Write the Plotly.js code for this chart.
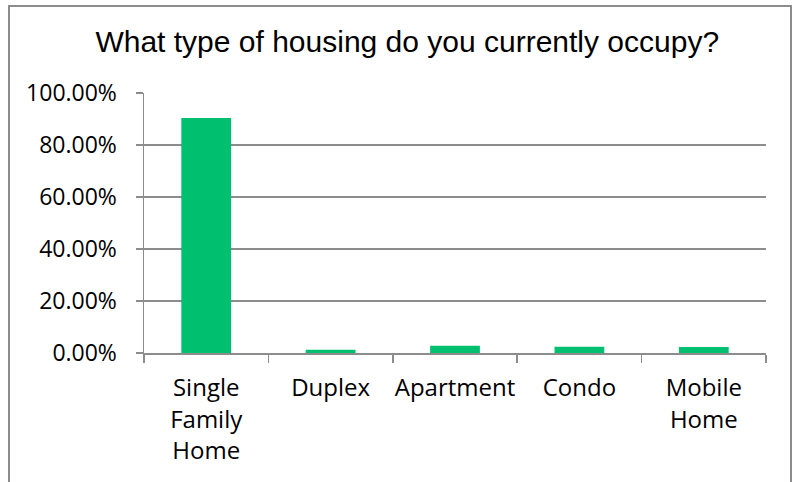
<!DOCTYPE html>
<html>
<head>
<meta charset="utf-8">
<script src="https://cdn.plot.ly/plotly-3.0.1.min.js"></script>
<style>
  html, body { margin: 0; padding: 0; background: #ffffff; overflow: hidden; }
  #wrap { position: relative; width: 797px; height: 482px; }
  #chart { position: absolute; left: 0; top: 0; width: 797px; height: 482px; }
  #frame { position: absolute; left: 8px; top: 5px; width: 784px; height: 490px;
           border-left: 2px solid #8c8c8c; border-top: 2px solid #8c8c8c; border-right: 2px solid #8c8c8c;
           pointer-events: none; box-sizing: border-box; }
</style>
</head>
<body>
<div id="wrap">
  <div id="chart"></div>
  <div id="frame"></div>
</div>
<script>
const chartTitle = "What type of housing do you currently occupy?";
const categories = ["Single<br>Family<br>Home", "Duplex", "Apartment", "Condo", "Mobile<br>Home"];
const shares = [0.904, 0.0127, 0.028, 0.024, 0.023];
const yTickValues = [0, 0.2, 0.4, 0.6, 0.8, 1.0];

const barColor = "#00BF6F";
const axisColor = "#8c8c8c";
const yLabelFont = { family: "Open Sans, sans-serif", size: 23, color: "#000000" };
const xLabelFont = { family: "Open Sans, sans-serif", size: 24, color: "#000000" };

const trace = {
  type: "bar",
  x: categories,
  y: shares,
  marker: { color: barColor, line: { width: 0 } },
  hoverinfo: "skip"
};

const layout = {
  width: 797,
  height: 482,
  margin: { l: 144, r: 31, t: 93, b: 129 },
  paper_bgcolor: "#ffffff",
  plot_bgcolor: "#ffffff",
  showlegend: false,
  bargap: 0.6,
  title: {
    text: chartTitle,
    font: { family: "Liberation Sans, Arial, sans-serif", size: 30, color: "#000000" },
    x: 0.511,
    xanchor: "center",
    y: 0.913,
    yanchor: "middle"
  },
  xaxis: {
    type: "category",
    showline: true,
    linecolor: axisColor,
    linewidth: 1.5,
    ticks: "outside",
    ticklen: 8,
    tickwidth: 1.5,
    tickcolor: axisColor,
    tickson: "boundaries",
    tickangle: 0,
    showgrid: false,
    tickfont: xLabelFont,
    ticklabelstandoff: 13,
    fixedrange: true
  },
  yaxis: {
    range: [0, 1],
    tickvals: yTickValues,
    tickformat: ".2%",
    showline: true,
    linecolor: axisColor,
    linewidth: 1.5,
    ticks: "outside",
    ticklen: 7,
    tickwidth: 1.5,
    tickcolor: axisColor,
    showgrid: true,
    gridcolor: axisColor,
    gridwidth: 1.5,
    zeroline: false,
    tickfont: yLabelFont,
    ticklabelstandoff: 14,
    fixedrange: true
  }
};

Plotly.newPlot("chart", [trace], layout, { displayModeBar: false, staticPlot: true });
</script>
</body>
</html>
